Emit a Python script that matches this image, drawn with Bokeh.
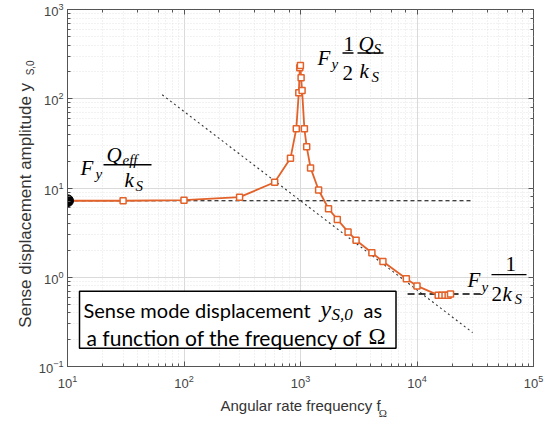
import numpy as np
from bokeh.plotting import figure
from bokeh.models import (Label, BoxAnnotation, LogAxis, LogTicker, Range1d,
                          FixedTicker)
from bokeh.embed import file_html
from bokeh.resources import INLINE

# ---- data ----
freq = [10, 30, 100, 300, 600, 820, 920, 967, 986, 998, 1012, 1032, 1080, 1130,
        1220, 1430, 1740, 2070, 2560, 3000, 4100, 5100, 8100, 10000,
        15200, 16300, 17400, 18500, 19400]
amp = [7.2, 7.2, 7.3, 7.9, 11.6, 21.5, 46, 117, 222, 236, 172, 124, 46, 29,
       16.8, 9.5, 5.85, 4.45, 3.22, 2.6, 1.88, 1.5, 0.96, 0.8,
       0.63, 0.63, 0.63, 0.63, 0.65]
start_point = ([10], [7.2])
low_asym = ([10, 30000], [7.2, 7.2])            # F_y Q_eff / k_S
high_asym = ([8300, 36000], [0.65, 0.65])       # F_y / (2 k_S)
slope_f = [65, 30000]                           # 1/f asymptote
slope_c = 7200

x_label = "Angular rate frequency f"
x_label_sub = "Ω"
y_label = "Sense displacement amplitude y"
y_label_sub = "S,0"

W, H = 554, 421
X0, X1, Y0, Y1 = 67, 533, 9, 370


def dx(px):
    return 10 ** (1 + 4 * (px - X0) / (X1 - X0))


def dy(py):
    return 10 ** (3 - 4 * (py - Y0) / (Y1 - Y0))


p = figure(width=W, height=H, x_axis_type="log", y_axis_type="log",
           x_range=Range1d(10, 1e5), y_range=Range1d(0.1, 1000),
           output_backend="svg", toolbar_location=None,
           min_border_left=X0, min_border_right=W - X1,
           min_border_top=Y0, min_border_bottom=H - Y1)
p.background_fill_color = "white"
p.border_fill_color = "white"
p.outline_line_color = "#555555"
p.outline_line_width = 1

axcol = "#555555"
for ax in (p.xaxis[0], p.yaxis[0]):
    ax.axis_line_color = axcol
    ax.major_tick_line_color = axcol
    ax.minor_tick_line_color = axcol
    ax.major_tick_in = 5
    ax.major_tick_out = 0
    ax.minor_tick_in = 3
    ax.minor_tick_out = 0
    ax.major_label_text_color = "#444444"
    ax.major_label_text_font = "Liberation Sans"
    ax.major_label_text_font_size = "13px"
p.xaxis.major_label_standoff = 8
p.yaxis.major_label_standoff = 4

p.xaxis.axis_label = x_label
p.xaxis.axis_label_text_font = "Liberation Sans"
p.xaxis.axis_label_text_font_size = "15px"
p.xaxis.axis_label_text_font_style = "normal"
p.xaxis.axis_label_text_color = "#333333"
p.xaxis.axis_label_standoff = 6

for loc in ("above", "right"):
    ax = LogAxis(ticker=LogTicker())
    ax.axis_line_color = None
    ax.major_tick_line_color = axcol
    ax.minor_tick_line_color = axcol
    ax.major_tick_in = 5
    ax.major_tick_out = 0
    ax.minor_tick_in = 3
    ax.minor_tick_out = 0
    ax.major_label_text_font_size = "1px"
    ax.major_label_text_color = None
    ax.major_label_standoff = 0
    p.add_layout(ax, loc)


def text_axis(loc, tick, text, font, size, standoff, orientation="horizontal"):
    ax = LogAxis(ticker=FixedTicker(ticks=[tick], minor_ticks=[]))
    ax.major_label_overrides = {tick: text}
    ax.axis_line_color = None
    ax.major_tick_line_color = None
    ax.minor_tick_line_color = None
    ax.major_tick_in = 0
    ax.major_tick_out = 0
    ax.major_label_text_font = font
    ax.major_label_text_font_size = f"{size}px"
    ax.major_label_text_color = "#333333"
    ax.major_label_standoff = standoff
    ax.major_label_orientation = orientation
    p.add_layout(ax, loc)


# subscripts and y label as extra (tick-free) axes so they sit outside the frame
text_axis("below", 5100, x_label_sub, "Liberation Serif", 11, -10)
text_axis("left", 222, y_label_sub, "Liberation Sans", 10, -1, "parallel")
text_axis("left", 6.4, y_label, "Liberation Sans", 17, -13, "parallel")

p.grid.grid_line_color = "#dadada"
p.grid.grid_line_width = 1
p.grid.minor_grid_line_color = "#e4e4e4"
p.grid.minor_grid_line_dash = "1 2"

# asymptotes
p.line(low_asym[0], low_asym[1], line_color="black", line_width=1.1, line_dash="4 3")
p.line(slope_f, [slope_c / f for f in slope_f], line_color="#333333",
       line_width=1.1, line_dash="2 3")
p.line(high_asym[0], high_asym[1], line_color="black", line_width=1.4, line_dash="7 4")

orange = "#E2622A"
p.line(freq, amp, line_color=orange, line_width=1.8)
p.scatter(freq[1:], amp[1:], marker="square", size=6, fill_color="white",
          line_color=orange, line_width=1.5)
p.scatter(start_point[0], start_point[1], size=12, fill_color="black",
          line_color="black")

# text box
p.add_layout(BoxAnnotation(left=dx(79), right=dx(395.5), top=dy(294), bottom=dy(351.5),
                           fill_color="white", fill_alpha=1.0, line_color="black",
                           line_width=1.5, line_alpha=1.0))

SANS = "Lato"
SERIF = "Liberation Serif"


def lab(px, py, text, font, size, style="normal", color="black"):
    py = py - 0.18 * size
    p.add_layout(Label(x=dx(px), y=dy(py), text=text, text_font=font,
                       text_font_size=f"{size}px", text_font_style=style,
                       text_color=color, text_align="left",
                       text_baseline="alphabetic"))


def bar(px0, px1, py):
    p.segment(x0=[dx(px0)], y0=[dy(py)], x1=[dx(px1)], y1=[dy(py)],
              line_color="black", line_width=1.3)


# box text
lab(83, 316.5, "Sense mode displacement", SANS, 20)
lab(320, 316.5, "y", SERIF, 24, "italic")
lab(331, 320, "S,0", SERIF, 17, "italic")
lab(363, 316.5, "as", SANS, 20)
lab(86, 344, "a function of the frequency of", SANS, 21)
lab(368, 344, "Ω", SERIF, 23)

# F_y Q_eff / k_S
lab(80, 173, "F", SERIF, 21, "italic")
lab(95, 178, "y", SERIF, 15, "italic")
lab(106, 160, "Q", SERIF, 21, "italic")
lab(122, 164, "eff", SERIF, 15, "italic")
bar(103, 151, 166)
lab(124, 185, "k", SERIF, 21, "italic")
lab(135, 190, "S", SERIF, 15, "italic")

# F_y 1/2 Q_S / k_S
lab(317, 62, "F", SERIF, 21, "italic")
lab(331, 67, "y", SERIF, 15, "italic")
lab(343, 48, "1", SERIF, 21)
bar(342, 353, 53)
lab(342, 77, "2", SERIF, 21)
lab(358, 48, "Q", SERIF, 21, "italic")
lab(373, 52, "S", SERIF, 15, "italic")
bar(357, 383, 53)
lab(359, 75, "k", SERIF, 21, "italic")
lab(371, 80, "S", SERIF, 15, "italic")

# F_y 1 / (2 k_S)
lab(467, 286, "F", SERIF, 21, "italic")
lab(481, 292, "y", SERIF, 15, "italic")
lab(505, 270, "1", SERIF, 21)
bar(491, 526, 277)
lab(491, 300, "2", SERIF, 21)
lab(502, 300, "k", SERIF, 21, "italic")
lab(514, 304, "S", SERIF, 15, "italic")

open("out.html", "w").write(file_html(p, INLINE))
